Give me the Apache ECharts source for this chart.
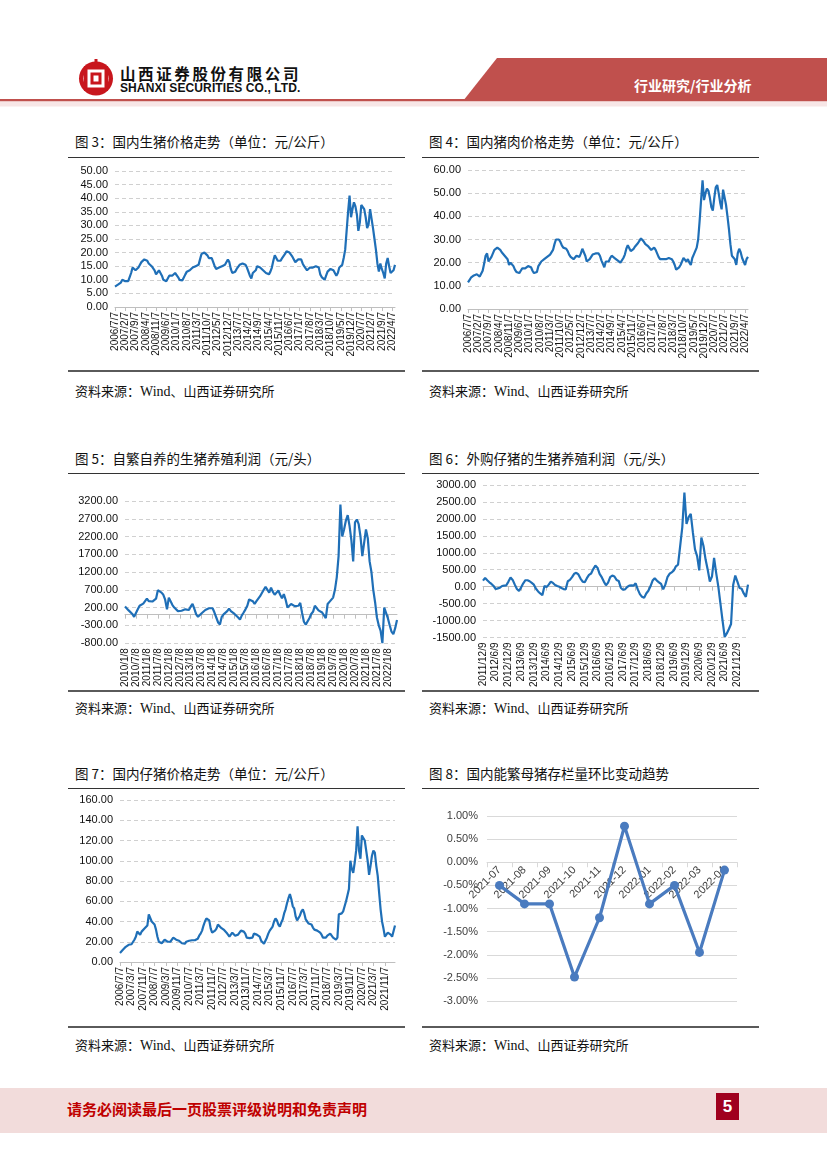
<!DOCTYPE html>
<html><head><meta charset="utf-8">
<script src="https://cdn.jsdelivr.net/npm/echarts@6/dist/echarts.min.js"></script>
<style>
html,body{margin:0;padding:0}
body{width:827px;height:1169px;position:relative;background:#fff;font-family:"Noto Sans CJK SC","Noto Sans",sans-serif;overflow:hidden}
.abs{position:absolute}
.title{position:absolute;font-size:13.5px;color:#111;white-space:nowrap;line-height:16px}
.src{position:absolute;font-size:13px;color:#111;white-space:nowrap;line-height:16px}
.src b{font-weight:normal;font-family:"Liberation Serif",serif;font-size:14px}
.rule{position:absolute;height:1.3px;background:#333}
.rule2{position:absolute;height:2px;background:#5a5a5a}
.chart{position:absolute}
</style></head><body>

<!-- header -->
<svg class="abs" style="left:0;top:0" width="827" height="112">
  <polygon points="497,58 827,58 827,101 463,101" fill="#c0504d"/>
  <rect x="0" y="99" width="827" height="2.5" fill="#c0504d"/>
  <rect x="0" y="101.5" width="827" height="5" fill="#f7e6e6"/>
  <circle cx="96" cy="78.5" r="17" fill="#c8161d"/>
  <circle cx="96" cy="78.5" r="12.5" fill="#fff"/>
  <rect x="84" y="66" width="24" height="25" fill="#c8161d"/>
  <rect x="87.5" y="69.5" width="17" height="18" fill="#fff"/>
  <rect x="90.5" y="72.5" width="11" height="12" fill="#c8161d"/>
  <rect x="93.5" y="75.5" width="5" height="6" fill="#fff"/>
  <rect x="94.5" y="59" width="3" height="8" fill="#c8161d"/>
</svg>
<div class="abs" style="left:120px;top:63px;font-size:15.5px;font-weight:bold;letter-spacing:2.6px;color:#111;line-height:20px">山西证券股份有限公司</div>
<div class="abs" style="left:120px;top:82px;font-size:12px;font-weight:bold;font-family:'Liberation Sans Narrow','Liberation Sans',sans-serif;color:#111;line-height:13px;letter-spacing:0.1px">SHANXI SECURITIES CO., LTD.</div>
<div class="abs" style="left:634px;top:76px;font-size:14px;font-weight:bold;color:#fff;line-height:18px">行业研究/行业分析</div>

<!-- panel titles and rules -->
<div class="title" style="left:75px;top:133px">图 3：国内生猪价格走势（单位：元/公斤）</div>
<div class="title" style="left:429px;top:133px">图 4：国内猪肉价格走势（单位：元/公斤）</div>
<div class="rule" style="left:68px;top:156.5px;width:337px"></div>
<div class="rule" style="left:422px;top:156.5px;width:337px"></div>
<div class="rule2" style="left:68px;top:370px;width:337px"></div>
<div class="rule2" style="left:422px;top:370px;width:337px"></div>
<div class="src" style="left:75px;top:383px">资料来源：<b>Wind</b>、山西证券研究所</div>
<div class="src" style="left:429px;top:383px">资料来源：<b>Wind</b>、山西证券研究所</div>

<div class="title" style="left:75px;top:450px">图 5：自繁自养的生猪养殖利润（元/头）</div>
<div class="title" style="left:429px;top:450px">图 6：外购仔猪的生猪养殖利润（元/头）</div>
<div class="rule" style="left:68px;top:472.5px;width:337px"></div>
<div class="rule" style="left:422px;top:472.5px;width:337px"></div>
<div class="rule2" style="left:68px;top:690px;width:337px"></div>
<div class="rule2" style="left:422px;top:690px;width:337px"></div>
<div class="src" style="left:75px;top:700px">资料来源：<b>Wind</b>、山西证券研究所</div>
<div class="src" style="left:429px;top:700px">资料来源：<b>Wind</b>、山西证券研究所</div>

<div class="title" style="left:75px;top:765px">图 7：国内仔猪价格走势（单位：元/公斤）</div>
<div class="title" style="left:429px;top:765px">图 8：国内能繁母猪存栏量环比变动趋势</div>
<div class="rule" style="left:68px;top:787.5px;width:337px"></div>
<div class="rule" style="left:422px;top:787.5px;width:337px"></div>
<div class="rule2" style="left:68px;top:1026px;width:337px"></div>
<div class="rule2" style="left:422px;top:1026px;width:337px"></div>
<div class="src" style="left:75px;top:1037px">资料来源：<b>Wind</b>、山西证券研究所</div>
<div class="src" style="left:429px;top:1037px">资料来源：<b>Wind</b>、山西证券研究所</div>

<!-- charts -->
<div id="c3" class="chart" style="left:68px;top:160px;width:337px;height:210px"></div>
<div id="c4" class="chart" style="left:422px;top:160px;width:337px;height:210px"></div>
<div id="c5" class="chart" style="left:68px;top:476px;width:337px;height:214px"></div>
<div id="c6" class="chart" style="left:422px;top:476px;width:337px;height:214px"></div>
<div id="c7" class="chart" style="left:68px;top:790px;width:337px;height:236px"></div>
<div id="c8" class="chart" style="left:422px;top:790px;width:337px;height:236px"></div>

<!-- footer -->
<div class="abs" style="left:0;top:1088px;width:827px;height:45px;background:#f2dcdb"></div>
<div class="abs" style="left:67px;top:1099px;font-size:15px;font-weight:bold;color:#c00000;line-height:20px">请务必阅读最后一页股票评级说明和免责声明</div>
<div class="abs" style="left:716px;top:1093px;width:23px;height:27px;background:#a0001e;color:#fff;font-weight:bold;font-size:17px;line-height:27px;text-align:center;font-family:'Liberation Sans Narrow','Liberation Sans',sans-serif">5</div>

<script>
// ---------------- DATA ----------------
// 图3 国内生猪价格（元/公斤），月度 2006/7 – 2022/6
const hogPrice = [
 7.5,7.8,8.2,8.5,9.0,10.0,
 10.2,9.5,9.0,9.5,11.0,12.5,14.5,15.0,13.5,13.0,14.5,15.5,
 16.5,17.0,17.5,17.5,17.0,16.0,15.5,15.0,14.5,13.5,12.0,12.5,
 13.5,13.0,11.5,10.0,9.5,9.5,10.5,11.5,12.0,11.5,12.0,12.5,
 12.5,11.0,10.0,9.5,9.8,10.5,12.0,13.0,13.0,13.5,14.0,14.5,
 14.5,15.0,15.5,15.5,17.5,19.5,20.0,20.0,19.5,19.0,18.0,17.5,
 18.0,16.5,15.0,14.0,14.0,14.5,14.5,15.0,14.5,15.5,16.0,17.5,
 16.5,14.0,12.5,12.0,13.0,14.0,14.5,15.5,16.0,16.0,15.5,15.5,
 14.5,13.0,11.5,10.5,12.5,13.0,13.5,15.0,15.5,14.5,14.0,13.5,
 13.0,12.5,12.0,12.0,13.0,14.5,17.0,19.0,18.5,17.0,16.5,17.0,
 18.0,18.5,19.5,20.5,21.0,20.0,19.5,18.5,17.5,16.5,17.0,17.5,
 18.0,17.5,16.0,15.0,14.5,13.5,14.0,14.5,14.5,14.5,15.0,15.0,
 15.0,14.5,12.0,11.0,10.5,10.0,11.5,13.0,13.5,14.0,13.5,13.5,
 12.5,11.5,12.5,14.5,15.0,15.5,18.0,21.0,28.0,35.0,41.0,33.0,
 36.0,38.5,37.0,34.0,28.0,31.0,37.5,38.0,36.0,33.0,29.0,30.5,
 36.0,36.5,29.0,25.0,21.0,16.0,13.0,16.0,14.0,12.5,10.5,16.0,
 18.0,15.0,12.5,12.5,13.5,15.5
];
// 图4 国内猪肉价格（元/公斤），月度 2006/7 – 2022/6
const porkPrice = [
 11.5,12.5,13.5,14.0,14.5,15.0,
 15.0,14.5,14.0,14.5,16.5,19.5,23.0,24.0,20.5,21.5,22.5,24.0,
 25.5,26.0,26.5,26.0,25.5,24.5,24.0,23.0,22.5,21.5,19.0,20.0,
 20.0,18.5,17.0,16.0,15.5,15.5,16.5,17.5,18.0,17.5,17.5,18.5,
 19.0,18.0,16.5,15.5,15.0,16.0,18.5,19.5,20.5,21.0,21.5,22.0,
 22.5,23.0,23.5,24.0,25.5,28.0,30.0,30.5,30.0,29.0,27.5,26.5,
 26.5,26.0,25.0,23.5,22.5,22.0,21.5,22.0,23.0,23.0,22.5,24.0,
 26.0,25.5,23.0,20.5,21.0,21.5,22.5,23.5,24.0,24.0,24.0,24.0,
 23.0,21.0,19.5,18.0,20.5,21.0,20.5,22.0,23.0,22.5,22.0,21.5,
 21.0,20.5,20.0,20.5,22.0,23.5,26.0,27.5,27.0,25.0,24.5,26.0,
 27.0,27.5,28.5,29.5,30.5,30.0,29.0,28.0,27.5,27.0,26.5,25.5,
 26.0,26.5,25.5,24.0,22.5,21.5,21.0,21.5,21.5,21.5,22.0,22.0,
 22.0,21.5,20.5,19.0,17.0,16.5,18.0,19.0,20.5,22.0,21.5,20.5,
 21.5,20.0,19.0,22.0,23.5,24.0,26.5,30.0,38.0,47.0,55.5,47.0,
 50.0,52.0,51.0,48.0,44.0,42.5,48.0,52.5,53.5,50.0,46.0,43.0,
 51.5,52.0,45.0,40.0,34.5,28.0,23.0,23.5,21.5,19.0,24.0,26.0,
 24.5,22.0,20.5,19.0,21.5,22.5
];
// 图5 自繁自养生猪养殖利润（元/头），月度 2010/1 – 2022/6
const selfBreedProfit = [
 230,180,120,80,20,-60,-80,150,250,280,310,380,
 450,380,330,370,380,450,690,680,620,560,420,150,
 480,500,270,200,160,100,90,110,100,150,110,130,
 230,300,160,10,-60,-50,40,90,130,170,180,170,
 180,60,-80,-220,-280,-60,10,-40,100,170,100,60,
 20,-30,-80,-140,-20,60,150,250,430,470,380,300,
 380,450,520,540,700,780,830,620,760,640,560,620,
 680,560,460,580,420,200,160,300,260,240,290,250,
 330,50,-200,-280,-250,-100,20,80,250,200,120,100,
 60,40,-100,300,360,380,480,700,1050,1650,3100,2200,
 2400,2650,2800,2500,2100,1500,2600,2680,2550,2200,1650,1600,
 2400,2150,1500,1200,700,350,-80,-300,-450,-800,200,150,
 -100,-300,-480,-550,-380,-150
];
// 图6 外购仔猪生猪养殖利润（元/头），月度 2011/12 – 2022/5
const boughtPigletProfit = [
 180,
 260,190,130,80,20,-70,-50,-30,20,30,40,150,
 270,200,60,-70,-130,-20,100,190,190,160,110,60,
 -60,-140,-200,-250,20,-10,60,150,110,50,20,0,
 -40,-70,-80,160,200,280,380,410,360,240,150,130,
 250,350,390,520,620,560,380,280,150,40,120,280,
 330,300,200,170,-30,-90,-80,-10,30,40,30,100,
 -80,-220,-300,-330,-200,-120,10,180,250,180,130,80,
 -80,60,280,380,420,480,600,650,1200,1750,2780,1850,
 2050,2150,1600,1100,900,480,1450,1200,800,500,150,300,
 850,400,0,-500,-1000,-1480,-1380,-1250,-1100,50,330,150,
 -40,-60,-200,-300,60
];
// 图7 国内仔猪价格（元/公斤），月度 2006/7 – 2022/6
const pigletPrice = [
 9,10.5,12,13,15,16.5,
 17,17.5,17.5,19,22,25,30,29,27,30,31,33,
 34,36,47,46,40,39,37,32,25,20,19,18.5,
 20,22,21,20,19,20,22,24,23,22,21.5,21,
 19.5,18.5,18,18,20,21.5,21,21,21.5,21,21.5,22.5,
 23,26,28,31,36,40,43,42,41,33,29,30,
 31,33,37,36,34,33,32,31,29,27,25,27,
 29,27.5,26,25,27,29,31,32,30,28,24,23,
 23.5,23,24,28,28,27,28,25,21,20,18,19,
 24,28,31,33,35,40,43,41,37,35,39,42,
 48,52,58,63,67,62,55,53,45,41,42,46,
 50,52,48,42,40,38,38,37,34,32,31,31,
 30,29,27,24,23,24,26,27,28,26,24,23,
 22,24,47,46,48,50,55,60,66,72,100,92,
 88,98,110,134,110,102,125,126,120,110,100,86,
 95,105,110,108,95,85,68,52,40,33,25,26,
 29,28,27,25,26,36
];
// 图8 能繁母猪存栏量环比（%）
const sowMonths = ['2021-07','2021-08','2021-09','2021-10','2021-11','2021-12','2022-01','2022-02','2022-03','2022-04'];
const sowChange = [-0.50,-0.90,-0.90,-2.48,-1.20,0.78,-0.90,-0.50,-1.95,-0.17];

// axis configuration: [min, max, interval]
const axis3 = [0, 50, 5];
const axis4 = [0, 60, 10];
const axis5 = [-800, 3200, 500];
const axis6 = [-1500, 3000, 500];
const axis7 = [0, 160, 20];
const axis8 = [-3, 1, 0.5];

// category builders (monthly dates, shown as Y/M/D)
function monthSeq(y, m, n, day) {
  const out = [];
  for (let i = 0; i < n; i++) {
    out.push(y + '/' + m + '/' + day);
    m++; if (m > 12) { m = 1; y++; }
  }
  return out;
}
const cat3 = monthSeq(2006, 7, hogPrice.length, 7);
const cat4 = monthSeq(2006, 7, porkPrice.length, 7);
const cat5 = monthSeq(2010, 1, selfBreedProfit.length, 8);
const cat6 = monthSeq(2011, 12, boughtPigletProfit.length, 9);
const cat7 = monthSeq(2006, 7, pigletPrice.length, 7);

// ---------------- CHARTS ----------------
const LINE = '#1f6fb7';
function tsChart(id, cats, data, ax, labelInterval, grid) {
  const c = echarts.init(document.getElementById(id), null, {renderer: 'canvas'});
  c.setOption({
    animation: false,
    grid: Object.assign({containLabel: false}, grid),
    xAxis: {
      type: 'category', data: cats, boundaryGap: false,
      axisLine: {show: true, lineStyle: {color: '#bfbfbf', width: 1}},
      axisTick: {show: true, interval: labelInterval, length: 4, lineStyle: {color: '#bfbfbf'}},
      axisLabel: {interval: labelInterval, rotate: 90, fontSize: 10, color: '#111', margin: 5,
        fontFamily: 'Liberation Sans, Arial, sans-serif'},
      splitLine: {show: false}
    },
    yAxis: {
      type: 'value', min: ax[0], max: ax[1], interval: ax[2],
      axisLine: {show: false}, axisTick: {show: false},
      axisLabel: {fontSize: 11, color: '#111', margin: 7, fontFamily: 'Liberation Sans, Arial, sans-serif',
        formatter: v => v.toFixed(2)},
      splitLine: {show: true, lineStyle: {color: '#d0d0d0', type: [4, 3], width: 1}}
    },
    series: [{type: 'line', data: data, symbol: 'none', smooth: false,
      lineStyle: {color: LINE, width: 2.2}}]
  });
}
tsChart('c3', cat3, hogPrice, axis3, 6, {left: 47, right: 10, top: 11, bottom: 63});
tsChart('c4', cat4, porkPrice, axis4, 6, {left: 46, right: 11, top: 10, bottom: 61});
tsChart('c5', cat5, selfBreedProfit, axis5, 5, {left: 57, right: 8, top: 25, bottom: 44});
tsChart('c6', cat6, boughtPigletProfit, axis6, 5, {left: 61, right: 11, top: 9, bottom: 8});
tsChart('c7', cat7, pigletPrice, axis7, 7, {left: 52, right: 10, top: 10, bottom: 64});

// 图8: category axis placed at the 0% line
const g8 = {left: 65, right: 22, top: 26, bottom: 25};
const plotH8 = 236 - g8.top - g8.bottom;
const zeroOffset8 = -plotH8 * (0 - axis8[0]) / (axis8[1] - axis8[0]);
const c8 = echarts.init(document.getElementById('c8'));
c8.setOption({
  animation: false,
  grid: g8,
  xAxis: {
    type: 'category', data: sowMonths, boundaryGap: true, position: 'bottom', offset: zeroOffset8,
    axisLine: {show: true, onZero: false, lineStyle: {color: '#d9d9d9'}},
    axisTick: {show: true, length: 5, lineStyle: {color: '#d9d9d9'}},
    axisLabel: {rotate: 45, fontSize: 11, color: '#404040', margin: 6, interval: 0,
      fontFamily: 'Liberation Sans, Arial, sans-serif'}
  },
  yAxis: {
    type: 'value', min: axis8[0], max: axis8[1], interval: axis8[2],
    axisLine: {show: false}, axisTick: {show: false},
    axisLabel: {fontSize: 11, color: '#404040', margin: 9, fontFamily: 'Liberation Sans, Arial, sans-serif',
      formatter: v => v.toFixed(2) + '%'},
    splitLine: {lineStyle: {color: '#d9d9d9', width: 1}}
  },
  series: [{type: 'line', data: sowChange, symbol: 'circle', symbolSize: 9,
    lineStyle: {color: '#4a7bbf', width: 3.2}, itemStyle: {color: '#4a7bbf'}, z: 5}]
});
</script>
</body></html>
